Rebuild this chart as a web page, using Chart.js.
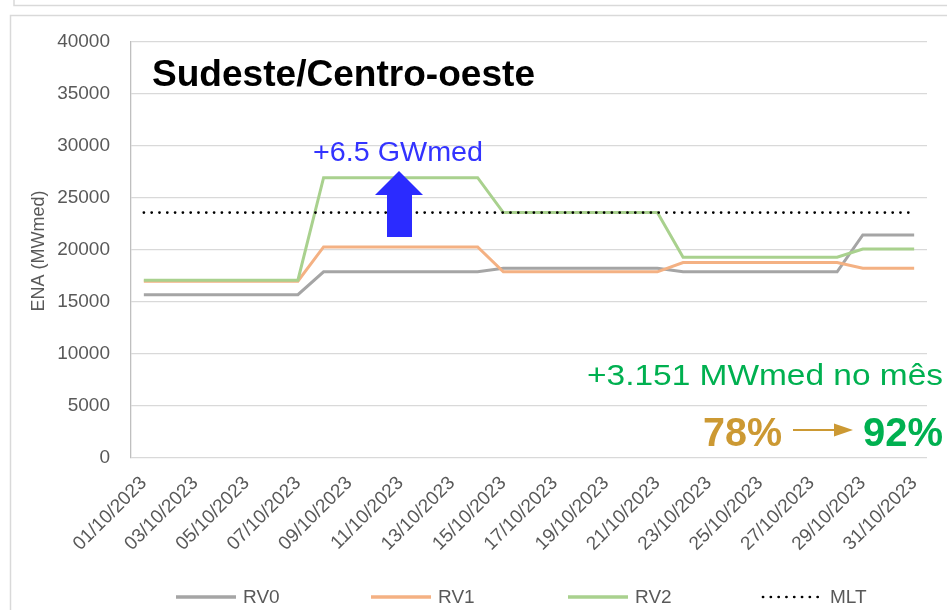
<!DOCTYPE html>
<html>
<head>
<meta charset="utf-8">
<script src="https://cdn.jsdelivr.net/npm/chart.js@4.4.1/dist/chart.umd.min.js"></script>
<style>
  html, body { margin: 0; padding: 0; background: #fff; }
  #wrap { width: 947px; height: 610px; position: relative; }
</style>
</head>
<body>
<div id="wrap"><canvas id="chart-ena" width="947" height="610"></canvas></div>
<script>
const DAYS = [
  '01/10/2023', '02/10/2023', '03/10/2023', '04/10/2023', '05/10/2023', '06/10/2023',
  '07/10/2023', '08/10/2023', '09/10/2023', '10/10/2023', '11/10/2023', '12/10/2023',
  '13/10/2023', '14/10/2023', '15/10/2023', '16/10/2023', '17/10/2023', '18/10/2023',
  '19/10/2023', '20/10/2023', '21/10/2023', '22/10/2023', '23/10/2023', '24/10/2023',
  '25/10/2023', '26/10/2023', '27/10/2023', '28/10/2023', '29/10/2023', '30/10/2023',
  '31/10/2023',
];

const RV0 = [
  15700, 15700, 15700, 15700, 15700, 15700, 15700,
  17900, 17900, 17900, 17900, 17900, 17900, 17900,
  18250, 18250, 18250, 18250, 18250, 18250, 18250,
  17900, 17900, 17900, 17900, 17900, 17900, 17900,
  21450, 21450, 21450,
];

const RV1 = [
  17000, 17000, 17000, 17000, 17000, 17000, 17000,
  20300, 20300, 20300, 20300, 20300, 20300, 20300,
  17900, 17900, 17900, 17900, 17900, 17900, 17900,
  18800, 18800, 18800, 18800, 18800, 18800, 18800,
  18250, 18250, 18250,
];

const RV2 = [
  17100, 17100, 17100, 17100, 17100, 17100, 17100,
  26950, 26950, 26950, 26950, 26950, 26950, 26950,
  23600, 23600, 23600, 23600, 23600, 23600, 23600,
  19300, 19300, 19300, 19300, 19300, 19300, 19300,
  20100, 20100, 20100,
];

const MLT = [
  23600, 23600, 23600, 23600, 23600, 23600, 23600, 23600, 23600, 23600, 23600,
  23600, 23600, 23600, 23600, 23600, 23600, 23600, 23600, 23600, 23600, 23600,
  23600, 23600, 23600, 23600, 23600, 23600, 23600, 23600, 23600,
];

const Y_TICKS = [0, 5000, 10000, 15000, 20000, 25000, 30000, 35000, 40000];

const FONT = "'Liberation Sans', Arial, sans-serif";
const TEXT_GRAY = '#595959';
const GRID = '#D9D9D9';

// texto esticado na horizontal ate a largura pedida (Calibri -> Liberation)
function fitText(ctx, text, x, y, width) {
  const w = ctx.measureText(text).width;
  ctx.save();
  ctx.translate(x, y);
  ctx.scale(width / w, 1);
  ctx.fillText(text, 0, 0);
  ctx.restore();
}

// moldura cinza do print do Excel
const framePlugin = {
  id: 'frame',
  beforeDraw(chart) {
    const ctx = chart.ctx;
    ctx.save();
    ctx.fillStyle = '#fff';
    ctx.fillRect(0, 0, chart.width, chart.height);
    ctx.strokeStyle = GRID;
    ctx.lineWidth = 1.5;
    ctx.beginPath();
    ctx.moveTo(14, 0); ctx.lineTo(14, 5.5); ctx.lineTo(chart.width, 5.5);
    ctx.moveTo(chart.width, 15.5); ctx.lineTo(10.5, 15.5); ctx.lineTo(10.5, chart.height);
    ctx.stroke();
    ctx.restore();
  },
};

// titulo, anotacoes e legenda
const notesPlugin = {
  id: 'notes',
  afterDraw(chart) {
    const ctx = chart.ctx;
    ctx.save();
    ctx.textBaseline = 'alphabetic';
    ctx.textAlign = 'left';

    ctx.fillStyle = '#000';
    ctx.font = `bold 37px ${FONT}`;
    fitText(ctx, 'Sudeste/Centro-oeste', 152, 86, 383);

    ctx.fillStyle = '#3333FF';
    ctx.font = `27px ${FONT}`;
    fitText(ctx, '+6.5 GWmed', 313, 161, 170);

    // seta azul
    ctx.fillStyle = '#2B2BFF';
    ctx.beginPath();
    ctx.moveTo(399, 171);
    ctx.lineTo(423, 195);
    ctx.lineTo(412, 195);
    ctx.lineTo(412, 237);
    ctx.lineTo(387, 237);
    ctx.lineTo(387, 195);
    ctx.lineTo(375, 195);
    ctx.closePath();
    ctx.fill();

    ctx.fillStyle = '#00B050';
    ctx.font = `30px ${FONT}`;
    fitText(ctx, '+3.151 MWmed no mês', 587, 385, 356);

    ctx.fillStyle = '#CC9933';
    ctx.font = `bold 41px ${FONT}`;
    fitText(ctx, '78%', 703, 446, 79);

    ctx.strokeStyle = '#CC9933';
    ctx.lineWidth = 2;
    ctx.beginPath();
    ctx.moveTo(793, 430);
    ctx.lineTo(836, 430);
    ctx.stroke();
    ctx.beginPath();
    ctx.moveTo(853, 430);
    ctx.lineTo(834, 423.5);
    ctx.lineTo(834, 436.5);
    ctx.closePath();
    ctx.fill();

    ctx.fillStyle = '#00B050';
    fitText(ctx, '92%', 863, 446, 80);

    // titulo do eixo y
    ctx.fillStyle = TEXT_GRAY;
    ctx.font = `18px ${FONT}`;
    ctx.translate(44, 251);
    ctx.rotate(-Math.PI / 2);
    ctx.textAlign = 'center';
    ctx.fillText('ENA (MWmed)', 0, 0);
    ctx.setTransform(1, 0, 0, 1, 0, 0);

    // legenda
    const legendX = [176, 371, 568, 763];
    const y = 597;
    ctx.font = `19px ${FONT}`;
    ctx.textAlign = 'left';
    ctx.textBaseline = 'middle';
    chart.data.datasets.forEach((ds, i) => {
      const x = legendX[i];
      ctx.strokeStyle = ds.borderColor;
      ctx.lineWidth = ds.borderDash.length ? 2.7 : 3.5;
      ctx.lineCap = ds.borderDash.length ? 'round' : 'butt';
      ctx.setLineDash(ds.borderDash);
      ctx.beginPath();
      ctx.moveTo(x, y);
      ctx.lineTo(x + 60, y);
      ctx.stroke();
      ctx.setLineDash([]);
      ctx.fillStyle = TEXT_GRAY;
      ctx.fillText(ds.label, x + 67, y + 1);
    });
    ctx.restore();
  },
};

function lineDataset(label, data, color, order) {
  return {
    label,
    data,
    borderColor: color,
    backgroundColor: color,
    borderWidth: 3,
    borderDash: [],
    pointRadius: 0,
    tension: 0,
    order,
  };
}

function renderChart() {
  const ctx = document.getElementById('chart-ena').getContext('2d');

  new Chart(ctx, {
    type: 'line',
    data: {
      labels: DAYS,
      datasets: [
        lineDataset('RV0', RV0, '#A5A5A5', 3),
        lineDataset('RV1', RV1, '#F4B183', 2),
        lineDataset('RV2', RV2, '#A9D18E', 1),
        {
          label: 'MLT',
          data: MLT,
          borderColor: '#000',
          borderWidth: 2.7,
          borderDash: [0.1, 7.7],
          borderCapStyle: 'round',
          pointRadius: 0,
          order: 0,
        },
      ],
    },
    options: {
      responsive: false,
      animation: false,
      devicePixelRatio: 1,
      layout: { padding: { top: 42, right: 20, left: 0, bottom: 0 } },
      plugins: {
        legend: { display: false },
        tooltip: { enabled: false },
      },
      scales: {
        x: {
          offset: true,
          grid: { display: false },
          border: { display: false },
          ticks: {
            autoSkip: false,
            maxRotation: 45,
            minRotation: 45,
            padding: 6,
            color: TEXT_GRAY,
            font: { family: FONT, size: 19 },
            callback(v, i) { return i % 2 === 0 ? DAYS[i] : ''; },
          },
          afterFit(scale) { scale.height = 152; },
        },
        y: {
          min: 0,
          max: 40000,
          afterBuildTicks(scale) { scale.ticks = Y_TICKS.map(v => ({ value: v })); },
          grid: { color: GRID, lineWidth: 1.3, drawTicks: false },
          border: { display: true, color: '#BFBFBF', width: 1.3 },
          ticks: {
            padding: 21,
            color: TEXT_GRAY,
            font: { family: FONT, size: 19 },
            callback(v) { return String(v); },
          },
          afterFit(scale) { scale.width = 131; },
        },
      },
    },
    plugins: [framePlugin, notesPlugin],
  });
}

renderChart();
</script>
</body>
</html>
